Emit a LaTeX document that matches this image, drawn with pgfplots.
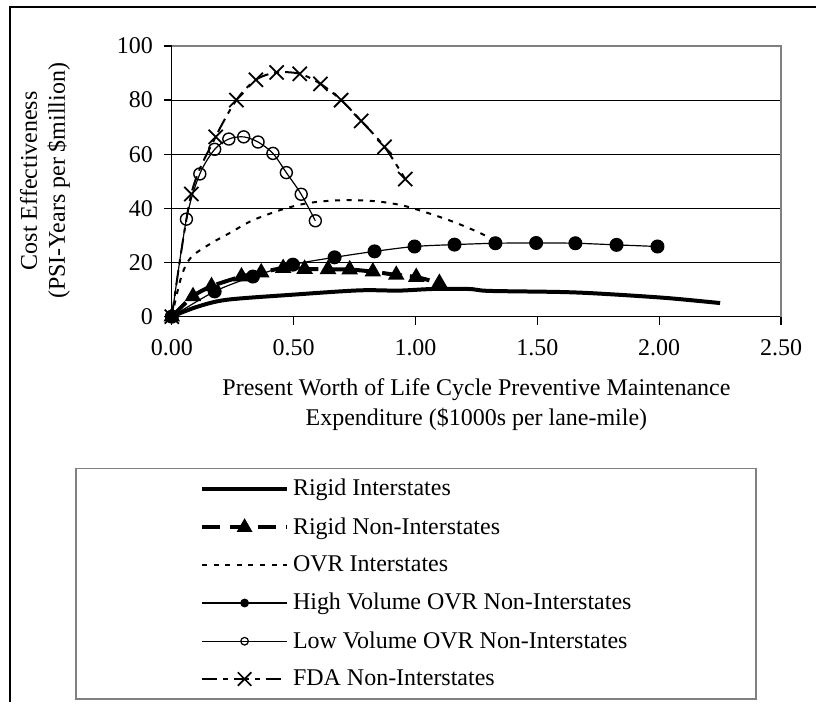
\documentclass[border=0pt]{standalone}
\usepackage{pgfplots}
\pgfplotsset{compat=1.18}
\usepackage{fontspec}
\setmainfont{Liberation Serif}
\begin{document}
\begin{tikzpicture}[x=1pt,y=1pt]
\path (0,0) rectangle (408.5,351.5);
\draw[black,line width=1pt] (5,0) -- (5,348) -- (408.5,348);
\draw[gray,line width=0.8pt] (38,1.5) rectangle (378.5,117);
\begin{axis}[
  scale only axis, width=305pt, height=135.5pt,
  at={(86pt,193pt)}, anchor=south west,
  xmin=0, xmax=2.5, ymin=0, ymax=100,
  xtick={0,0.5,1,1.5,2,2.5}, ytick={0,20,40,60,80,100},
  axis x line*=bottom, axis y line*=left,
  axis line style={black, line width=0.6pt, -},
  tick align=outside,
  major tick length=4pt,
  tick style={black, line width=0.6pt},
  ymajorgrids, grid style={black, line width=0.5pt},
  font=\fontsize{12}{14}\selectfont,
  /pgf/number format/assume math mode=true,
  xticklabel style={yshift=-4pt, /pgf/number format/.cd, fixed, fixed zerofill, precision=2},
  yticklabel style={xshift=-2pt},
  clip=false,
  xlabel={Present Worth of Life Cycle Preventive Maintenance\\[1pt]Expenditure (\$1000s per lane-mile)},
  xlabel style={align=center, at={(axis description cs:0.5,-0.325)}, anchor=center},
  ylabel={Cost Effectiveness\\(PSI-Years per \$million)},
  ylabel style={align=center, at={(axis description cs:-0.208,0.502)}, anchor=center},
  legend image code/.code={\draw[mark repeat=2,mark phase=2,#1] plot coordinates {(0pt,0pt) (21.25pt,0pt) (42.5pt,0pt)};},
  legend style={at={(axis description cs:0.0459,-0.585)}, anchor=north west, draw=none, fill=none,
    font=\fontsize{12}{14}\selectfont, row sep=5.3pt, column sep=0pt, inner sep=0pt},
  legend cell align=left,
]
% legend images
\addlegendimage{black, line width=2pt}
\addlegendentry{Rigid Interstates}
\addlegendimage{black, line width=2pt, dash pattern=on 9pt off 5pt, mark=triangle*, mark size=2.6pt, mark options={solid}}
\addlegendentry{Rigid Non-Interstates}
\addlegendimage{black, line width=1pt, dash pattern=on 2.5pt off 3.3pt}
\addlegendentry{OVR Interstates}
\addlegendimage{black, line width=0.6pt, mark=*, mark size=1.9pt}
\addlegendentry{High Volume OVR Non-Interstates}
\addlegendimage{black, line width=0.6pt, mark=o, mark size=1.9pt}
\addlegendentry{Low Volume OVR Non-Interstates}
\addlegendimage{black, line width=1pt, dash pattern=on 7.5pt off 3pt on 2.5pt off 3pt, mark=x, mark size=4.8pt, mark options={solid, line width=0.8pt}}
\addlegendentry{FDA Non-Interstates}
% data
\addplot[forget plot, black, line width=2pt, smooth, tension=0.5] coordinates {
(0,0) (0.1,3.5) (0.224,6.2) (0.497,8.1) (0.77,9.7) (0.93,9.6) (1.07,10.2) (1.22,10.2) (1.3,9.5) (1.59,9.1) (1.754,8.5) (2.027,6.9) (2.25,5.0)};
\addplot[forget plot, black, line width=2pt, dash pattern=on 10pt off 4pt, smooth, tension=0.5, mark=triangle*, mark size=2.8pt, mark options={solid}] coordinates {
(0,0) (0.087,7.5) (0.163,11.2) (0.286,14.8) (0.367,16.3) (0.457,17.9) (0.545,17.6) (0.641,17.5) (0.73,17.4) (0.825,16.6) (0.921,15.4) (1.003,14.6) (1.098,12.4)};
\addplot[forget plot, black, line width=1pt, dash pattern=on 2.5pt off 3.3pt, smooth, tension=0.5] coordinates {
(0,0) (0.04,15) (0.08,22) (0.16,27) (0.24,31) (0.33,35.5) (0.45,39.5) (0.55,41.8) (0.65,42.8) (0.75,43) (0.85,42.5) (0.95,41) (1.05,38.3) (1.15,35.2) (1.25,31.5) (1.33,28)};
\addplot[forget plot, black, line width=0.6pt, smooth, tension=0.5, mark=*, mark size=3.2pt] coordinates {
(0,0) (0.176,9.3) (0.333,14.8) (0.497,19.2) (0.668,21.9) (0.832,24.1) (0.996,25.9) (1.16,26.6) (1.328,27.1) (1.495,27.2) (1.656,27.1) (1.825,26.5) (1.993,25.9)};
\addplot[forget plot, black, line width=0.6pt, smooth, tension=0.5, mark=o, mark size=3pt, mark options={line width=0.7pt}] coordinates {
(0,0) (0.06,36) (0.115,52.7) (0.176,61.8) (0.234,65.6) (0.295,66.4) (0.354,64.5) (0.415,60.3) (0.47,53.2) (0.531,45.2) (0.589,35.4)};
\addplot[forget plot, black, line width=1pt, dash pattern=on 7.5pt off 3pt on 2.5pt off 3pt, smooth, tension=0.5, mark=x, mark size=5pt, mark options={solid, line width=0.9pt}] coordinates {
(0,0) (0.08,45.3) (0.18,66.4) (0.265,80) (0.345,87.5) (0.43,90.2) (0.525,89.7) (0.61,86) (0.695,80) (0.777,72.3) (0.873,62.7) (0.958,50.8)};
\draw[gray, line width=0.8pt] (rel axis cs:0,1) -- (rel axis cs:1,1) -- (rel axis cs:1,0);
\end{axis}
\end{tikzpicture}
\end{document}
